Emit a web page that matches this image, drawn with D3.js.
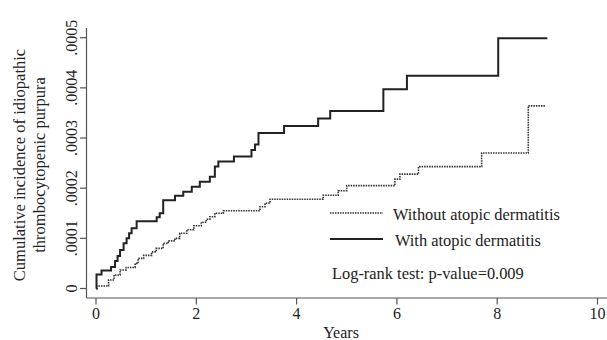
<!DOCTYPE html>
<html>
<head>
<meta charset="utf-8">
<script src="https://cdn.jsdelivr.net/npm/d3@7"></script>
<style>
  body { margin: 0; background: #fff; }
  text { font-family: "Liberation Serif", "Times New Roman", serif; fill: #222; }
</style>
</head>
<body>
<div id="chart"></div>
<script>
// years at which the curves step up, and the cumulative incidence after the step
var withTimes = [0, 0.01, 0.11, 0.3, 0.38, 0.43, 0.48, 0.55, 0.61, 0.66, 0.71, 0.81, 1.21, 1.27, 1.34, 1.575, 1.74, 1.91, 2.07, 2.27, 2.37, 2.44, 2.75, 3.1, 3.17, 3.24, 3.75, 4.43, 4.67, 5.73, 6.2, 8.02, 9.0]
var withValues = [0, 0.28, 0.36, 0.43, 0.55, 0.65, 0.77, 0.9, 1.0, 1.1, 1.2, 1.34, 1.42, 1.5, 1.76, 1.85, 1.93, 2.03, 2.13, 2.23, 2.43, 2.53, 2.63, 2.76, 2.87, 3.1, 3.24, 3.39, 3.54, 3.97, 4.24, 4.99, 4.99]
var withoutTimes = [0, 0.02, 0.25, 0.36, 0.48, 0.6, 0.78, 0.84, 0.95, 1.11, 1.2, 1.34, 1.44, 1.575, 1.67, 1.81, 1.95, 2.1, 2.2, 2.27, 2.37, 2.54, 3.27, 3.37, 3.47, 4.53, 4.83, 5.0, 5.96, 6.06, 6.43, 7.69, 8.62, 8.97]
var withoutValues = [0, 0.05, 0.17, 0.27, 0.37, 0.42, 0.5, 0.6, 0.66, 0.73, 0.8, 0.9, 0.95, 1.0, 1.1, 1.17, 1.25, 1.32, 1.38, 1.43, 1.5, 1.55, 1.63, 1.7, 1.78, 1.86, 1.95, 2.05, 2.18, 2.28, 2.43, 2.7, 3.64, 3.64]
var xTicks = [0, 2, 4, 6, 8, 10]
var yTicks = [0, 0.0001, 0.0002, 0.0003, 0.0004, 0.0005]
var yTickLabels = ["0", ".0001", ".0002", ".0003", ".0004", ".0005"]

var width = 607, height = 340

var svg = d3.select("#chart").append("svg")
    .attr("width", width)
    .attr("height", height)

var x = d3.scaleLinear().domain([0, 10]).range([96, 597.5])
var y = d3.scaleLinear().domain([0, 0.0005]).range([288.5, 37.7])

// axes (stata style, detached from the plot corner)
var axisColor = "#555"
svg.append("line").attr("x1", 86.5).attr("x2", 86.5).attr("y1", 28).attr("y2", 298)
    .attr("stroke", axisColor).attr("stroke-width", 1.2)
svg.append("line").attr("x1", 86.5).attr("x2", 607).attr("y1", 298).attr("y2", 298)
    .attr("stroke", axisColor).attr("stroke-width", 1.2)

svg.selectAll(".ytick").data(yTicks).enter().append("line")
    .attr("x1", 80).attr("x2", 86.5)
    .attr("y1", function (d) {return y(d);}).attr("y2", function (d) {return y(d);})
    .attr("stroke", axisColor).attr("stroke-width", 1.2)
svg.selectAll(".ylab").data(yTicks).enter().append("text")
    .attr("transform", function (d) {return "translate(77," + y(d) + ")rotate(-90)";})
    .attr("text-anchor", "middle")
    .style("font-size", "16px")
    .text(function (d, i) {return yTickLabels[i];})

svg.selectAll(".xtick").data(xTicks).enter().append("line")
    .attr("x1", function (d) {return x(d);}).attr("x2", function (d) {return x(d);})
    .attr("y1", 298).attr("y2", 304.5)
    .attr("stroke", axisColor).attr("stroke-width", 1.2)
svg.selectAll(".xlab").data(xTicks).enter().append("text")
    .attr("x", function (d) {return x(d);})
    .attr("y", 318.5)
    .attr("text-anchor", "middle")
    .style("font-size", "16px")
    .text(function (d) {return d;})

svg.append("text").attr("x", 341).attr("y", 337.5).attr("text-anchor", "middle")
    .style("font-size", "16px").text("Years")

svg.append("text").attr("transform", "translate(25,165)rotate(-90)").attr("text-anchor", "middle")
    .style("font-size", "16.5px").text("Cumulative incidence of idiopathic")
svg.append("text").attr("transform", "translate(45,165)rotate(-90)").attr("text-anchor", "middle")
    .style("font-size", "16.5px").text("thrombocytopenic purpura")

// curves
var line = d3.line()
    .x(function (d) {return x(d[0]);})
    .y(function (d) {return y(d[1] * 0.0001);})
    .curve(d3.curveStepAfter)

svg.append("path")
    .datum(d3.zip(withoutTimes, withoutValues))
    .attr("d", line)
    .attr("fill", "none").attr("stroke", "#333").attr("stroke-width", 1.6)
    .attr("stroke-dasharray", "1.5,1")

svg.append("path")
    .datum(d3.zip(withTimes, withValues))
    .attr("d", line)
    .attr("fill", "none").attr("stroke", "#222").attr("stroke-width", 2)

// legend
svg.append("line").attr("x1", 330).attr("x2", 383).attr("y1", 213).attr("y2", 213)
    .attr("stroke", "#333").attr("stroke-width", 1.6).attr("stroke-dasharray", "1.5,1")
svg.append("text").attr("x", 393).attr("y", 220).style("font-size", "16.4px").text("Without atopic dermatitis")
svg.append("line").attr("x1", 330).attr("x2", 383).attr("y1", 239).attr("y2", 239)
    .attr("stroke", "#222").attr("stroke-width", 2)
svg.append("text").attr("x", 395).attr("y", 246).style("font-size", "16.4px").text("With atopic dermatitis")
svg.append("text").attr("x", 332).attr("y", 278.5).style("font-size", "16.4px").text("Log-rank test: p-value=0.009")
</script>
</body>
</html>
